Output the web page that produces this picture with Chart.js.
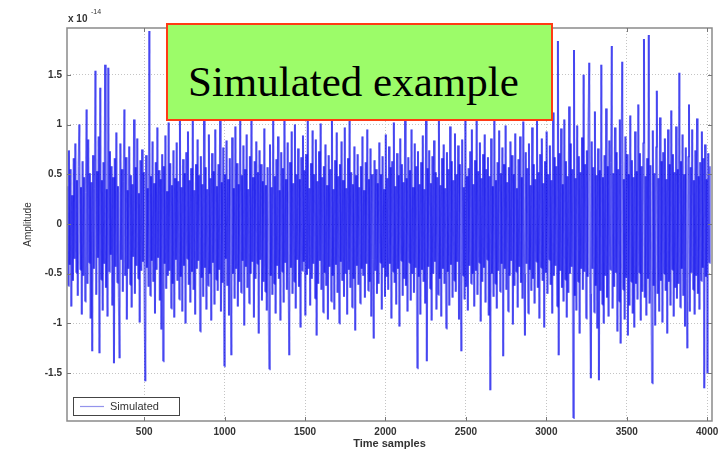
<!DOCTYPE html>
<html>
<head>
<meta charset="utf-8">
<script src="https://cdn.jsdelivr.net/npm/chart.js@4.4.1/dist/chart.umd.min.js"></script>
<style>
  body { margin: 0; background: #fff; }
  #wrap { position: relative; width: 725px; height: 452px; }
  #note {
    position: absolute; left: 166px; top: 23px; width: 383px; height: 94px;
    background: #9cfc69; border: 2px solid #ff3b14;
  }
  #note span {
    position: absolute; left: 20px; top: 35px; line-height: 43px;
    font-family: "Liberation Serif", "Times New Roman", serif; font-size: 43px; color: #000;
    white-space: nowrap;
  }
</style>
</head>
<body>
<div id="wrap">
  <canvas id="chart" width="725" height="452"></canvas>
  <div id="note"><span>Simulated example</span></div>
</div>
<script>
// time axis: one reading every 5 samples, starting at sample 22
const firstSample = 22;
const sampleStep = 5;

// amplitude (x 1e-14)
const amplitude = [
  0.38, -0.62, 0.74, -0.41, 0.55, -0.83, 0.29, -0.57, 0.66, -0.35, 0.81, -0.49, 0.44, -0.72, 0.58, 1.0, -0.46, 0.37, -0.91, 0.63,
  -0.52, 0.47, -0.78, 0.32, 1.15, -0.6, 0.85, -0.39, 0.51, -0.95, 0.42, -1.28, 0.69, -0.45, 0.36, 1.54, -0.71, 0.53, -0.34, 0.88,
  -1.3, 1.37, -0.56, 0.44, -0.87, 0.62, -0.4, 1.6, -0.64, 0.35, -0.93, 1.57, -0.48, 0.73, -0.31, 0.58, -0.82, 0.47, -1.40, 0.66,
  -0.43, 0.92, -0.59, 0.38, -0.74, -1.35, 0.81, -0.36, 0.55, -0.68, 0.43, 1.15, -0.52, 0.67, -0.96, 0.34, -0.45, 0.78, -0.61, 0.49,
  -0.84, 0.4, -0.33, 1.05, -0.7, 0.57, -0.42, 0.86, -0.55, 0.31, -0.99, 0.64, -0.47, 0.75, -0.38, 0.52, -0.81, -1.58, 0.69, -0.44,
  0.36, -0.63, 1.94, -0.72, 0.48, -0.37, 0.83, -0.58, 0.41, -0.9, 0.62, -0.46, 0.97, -0.34, 0.54, -0.77, 0.45, -1.06, 0.7, -1.38,
  0.58, -0.4, 0.89, -0.65, 0.33, -0.52, 1.02, -0.47, 0.61, -0.85, 0.39, -0.6, 0.74, -0.94, 0.46, -0.36, 0.82, -0.57, 0.43, -0.76,
  1.08, -0.53, 0.37, -0.88, 0.65, -0.42, 0.51, -1.0, 0.72, -0.35, 0.93, -0.61, 0.44, -0.79, 0.56, -0.48, 1.12, -0.66, 0.34, -0.91,
  0.6, -0.45, 0.85, -0.37, 0.49, -1.08, 0.68, -0.54, 0.4, -0.73, 1.04, -0.44, 0.57, -0.86, 0.35, -0.62, 0.9, -0.5, 0.46, -0.97,
  0.71, -0.39, 0.53, -0.81, 0.95, -0.56, 0.38, -0.67, 0.6, -0.46, 1.1, -0.88, 0.42, -0.59, 0.77, -1.43, 0.5, -0.35, 0.84, -0.62,
  0.45, -0.92, 0.66, -0.41, -1.32, 0.87, -0.5, 0.36, -0.75, 0.98, -0.45, 0.61, -0.83, 0.4, -0.58, 1.15, -0.69, 0.49, -0.37, 0.79,
  -1.02, 0.55, -0.43, 0.9, -0.64, 0.35, -0.8, 0.68, -0.5, 1.06, -0.38, 0.47, -0.94, 0.63, -0.55, 0.83, -0.4, 0.52, -1.1, 0.74,
  -0.36, 0.6, -0.77, 0.43, -0.58, 0.96, -0.68, 0.39, -0.87, 0.57, -0.46, -1.46, 0.8, -0.52, 0.37, -0.71, 1.09, -0.6, 0.48, -0.9,
  0.65, -0.42, 0.88, -0.55, 0.34, -0.97, 0.72, -0.48, 0.56, -0.79, 1.13, -0.39, 0.45, -0.66, 0.82, -0.53, -1.32, 0.62, -0.44, 0.93,
  -0.7, 0.41, -0.58, 1.0, -0.85, 0.5, -0.36, 0.76, -0.63, 0.45, -1.04, 0.67, -0.47, 0.89, -0.38, 0.54, -0.92, 0.7, -0.51, 1.07,
  -0.45, 0.36, -0.82, 0.61, -0.55, 0.94, -0.4, 0.5, -0.75, 0.85, -1.12, 0.43, -0.6, 0.73, -0.37, 1.01, -0.66, 0.47, -0.89, 0.58,
  -0.49, 0.8, -0.62, 0.39, -0.96, 0.69, -0.43, 0.55, -0.78, 1.11, -0.52, 0.35, -0.86, 0.64, -0.41, 0.92, -0.69, 0.48, -1.0, 0.6,
  -0.38, 0.83, -0.57, 0.44, -0.73, 0.97, -0.5, 0.36, -0.91, 0.66, -0.46, 1.05, -0.64, 0.52, -0.84, 0.4, -0.55, 0.78, -1.07, 0.49,
  -0.42, 0.7, -0.61, 0.37, -0.8, 0.58, -0.45, 0.88, -0.52, 0.34, -0.74, 0.62, -0.4, 0.95, -0.67, 0.45, -0.58, 0.76, -0.93, 0.5,
  -0.36, -1.15, 0.64, -0.47, 0.55, -0.7, 0.41, -0.6, 0.82, -0.39, 0.5, -0.86, 0.68, -0.44, 0.35, -0.73, 0.9, -0.53, 0.46, -0.66,
  0.78, -0.4, 0.57, -0.95, 0.63, -0.48, 1.02, -0.59, 0.38, -0.81, 0.71, -0.45, 0.49, -1.03, 0.86, -0.37, 0.6, -0.72, 0.42, -0.55,
  1.08, -0.62, 0.46, -0.88, 0.67, -0.39, 0.54, -0.77, 0.95, -0.5, 0.37, -0.69, 0.81, -0.44, 0.58, -1.45, 0.73, -0.53, 0.4, -0.91,
  0.62, -0.46, 0.89, -0.58, 0.35, -0.8, 1.05, -1.38, 0.56, -0.43, 0.74, -0.65, 0.41, -0.97, 0.68, -0.5, 0.84, -0.38, 0.52, -0.86,
  0.47, -0.71, 1.1, -0.55, 0.39, -0.93, 0.66, -0.45, 0.8, -0.6, 0.36, -1.05, 0.72, -0.48, 0.55, -0.82, 0.98, -0.41, 0.63, -0.74,
  0.44, -0.57, 0.91, -0.68, 0.5, -0.38, 0.79, -0.96, 0.6, -0.45, -1.28, 0.85, -0.52, 0.37, -0.76, 1.04, -0.63, 0.48, -0.87, 0.56,
  -0.42, 0.73, -0.6, 0.95, -0.5, 0.4, -0.83, 0.64, -0.47, 1.09, -0.71, 0.53, -0.39, 0.82, -0.98, 0.46, -0.58, 0.7, -0.44, 0.9,
  -0.79, 0.55, -0.36, 0.67, -0.92, 0.48, -1.67, 0.86, -0.5, 0.38, -0.73, 1.06, -0.6, 0.44, -0.85, 0.62, -0.47, 0.94, -0.68, 0.51,
  -0.4, 0.77, -1.33, 0.6, -0.45, 0.99, -0.66, 0.42, -0.88, 0.57, -0.52, 0.83, -0.37, 0.69, -1.01, 0.5, -0.62, 0.91, -0.48, 0.36,
  -0.84, 0.65, -0.43, 0.88, -0.59, 0.47, -0.75, 1.03, -0.5, -1.12, 0.72, -0.4, 0.56, -0.9, 0.81, -0.46, 0.39, -0.67, 0.97, -0.55,
  0.6, -0.8, 0.45, -0.38, 1.07, -0.64, 0.52, -0.95, 0.7, -0.44, 0.86, -0.57, 0.41, -1.04, 0.63, -0.49, 0.93, -0.7, 0.5, -0.36,
  0.79, -0.61, 0.44, -0.9, 1.12, -0.52, 0.67, -0.42, 0.58, -0.83, 1.84, -1.32, 0.71, -0.47, 0.96, -0.64, 0.4, -0.78, 1.05, -0.56,
  0.63, -0.94, 0.48, -0.69, 1.18, -0.5, 0.81, -0.43, 0.55, -1.95, 1.75, -0.72, 0.46, -0.87, 0.99, -0.58, 0.68, -1.1, 0.52, -0.45,
  0.87, -0.66, 1.5, -0.48, 0.6, -0.95, 0.74, -0.53, 1.02, 1.62, -0.7, -1.55, 0.83, -0.45, 0.57, -0.89, 1.13, -0.62, 0.49, -1.05,
  0.76, -1.57, 0.54, -0.67, 1.6, -0.81, 0.47, -1.0, 0.69, -0.52, 1.16, -0.74, 0.58, -0.93, 0.84, -0.46, 0.62, 1.79, -0.85, 0.51,
  -0.63, 0.97, -0.49, 0.72, -1.08, 0.55, -0.78, 1.05, -1.2, 0.6, 1.63, -0.66, 0.45, -0.96, 0.88, -0.54, 0.7, -1.12, 0.5, -0.82,
  1.09, -0.58, 0.64, -0.9, 0.47, -1.04, 0.93, -0.6, 0.53, -0.76, 1.2, -0.49, 0.71, -0.97, 0.58, -0.68, 0.82, 1.86, -0.74, 0.48,
  -0.92, 0.66, -0.55, 1.9, -0.8, 0.59, -0.47, -1.6, 0.94, -0.62, 0.51, -1.02, 0.78, 1.34, -0.7, 0.46, -0.88, 1.07, -0.57, 0.63,
  -0.99, 0.72, -0.5, 0.86, -0.67, 0.45, -1.1, 0.95, -0.58, 0.6, -0.82, 1.14, -0.46, 0.7, -0.93, 0.52, -0.64, 0.98, -0.75, 0.55,
  -0.6, 1.52, -0.84, 0.63, -0.45, 0.9, -0.72, 0.5, -1.03, 0.77, -0.55, -1.25, 0.68, 1.2, -0.88, 0.57, -0.49, 0.95, -0.66, 0.44,
  -0.91, 0.74, -0.52, 1.06, -0.7, 0.48, -0.86, 0.62, -0.57, 0.93, -0.44, 0.66, -1.65, 0.8, -0.53, 0.45, -1.5, 0.71, -0.39, 0.58
];

const xTicks = [500, 1000, 1500, 2000, 2500, 3000, 3500, 4000];
const yTicks = [-1.5, -1, -0.5, 0, 0.5, 1, 1.5];

const points = amplitude.map((v, i) => ({ x: firstSample + i * sampleStep, y: v }));

// two almost identical shades so every segment is stroked on its own
// and overlapping strokes build up into the dark core
const lineColorA = 'rgba(0, 0, 235, 0.48)';
const lineColorB = 'rgba(0, 0, 236, 0.48)';
const tickFont = { family: 'Liberation Sans, Arial, sans-serif', size: 10, weight: 'bold' };

// box round the axes, small inward ticks, exponent label and legend
const matlabFrame = {
  id: 'matlabFrame',
  afterDraw(chart) {
    const { ctx, chartArea: a, scales } = chart;
    ctx.save();
    ctx.strokeStyle = '#8a8a8a';
    ctx.lineWidth = 1.5;
    ctx.strokeRect(a.left, a.top, a.right - a.left, a.bottom - a.top);

    ctx.lineWidth = 1;
    ctx.strokeStyle = '#777';
    ctx.beginPath();
    xTicks.forEach(t => {
      const x = Math.round(scales.x.getPixelForValue(t)) + 0.5;
      ctx.moveTo(x, a.bottom); ctx.lineTo(x, a.bottom - 4);
      ctx.moveTo(x, a.top); ctx.lineTo(x, a.top + 4);
    });
    yTicks.forEach(t => {
      const y = Math.round(scales.y.getPixelForValue(t)) + 0.5;
      ctx.moveTo(a.left, y); ctx.lineTo(a.left + 4, y);
      ctx.moveTo(a.right, y); ctx.lineTo(a.right - 4, y);
    });
    ctx.stroke();

    ctx.fillStyle = '#333';
    ctx.textBaseline = 'middle';
    ctx.font = 'bold 10px Liberation Sans, Arial, sans-serif';
    ctx.fillText('x 10', a.left + 1, 19);
    ctx.font = '7px Liberation Sans, Arial, sans-serif';
    ctx.fillText('-14', a.left + 24, 12);

    // legend box
    const lx = a.left + 6, ly = a.bottom - 24, lw = 106, lh = 18;
    ctx.fillStyle = '#fff';
    ctx.fillRect(lx, ly, lw, lh);
    ctx.strokeStyle = '#444';
    ctx.strokeRect(lx + 0.5, ly + 0.5, lw, lh);
    ctx.strokeStyle = 'rgba(60, 60, 220, 0.55)';
    ctx.lineWidth = 1.2;
    ctx.beginPath();
    ctx.moveTo(lx + 7, ly + 9.5); ctx.lineTo(lx + 31, ly + 9.5);
    ctx.stroke();
    ctx.fillStyle = '#333';
    ctx.font = '11px Liberation Sans, Arial, sans-serif';
    ctx.fillText(chart.data.datasets[0].label, lx + 37, ly + 10);
    ctx.restore();
  }
};

new Chart(document.getElementById('chart').getContext('2d'), {
  type: 'line',
  data: {
    datasets: [{
      label: 'Simulated',
      data: points,
      borderColor: lineColorA,
      borderWidth: 2,
      pointRadius: 0,
      tension: 0,
      fill: false,
      segment: {
        borderColor: c => (c.p0DataIndex % 2 ? lineColorA : lineColorB)
      }
    }]
  },
  options: {
    responsive: false,
    animation: false,
    layout: { padding: { top: 28, right: 13, left: 0, bottom: 0 } },
    plugins: {
      legend: { display: false },
      tooltip: { enabled: false }
    },
    scales: {
      x: {
        type: 'linear',
        min: 20,
        max: 4030,
        afterBuildTicks: scale => { scale.ticks = xTicks.map(v => ({ value: v })); },
        afterFit: scale => { scale.height = 31; },
        grid: { color: '#c4c4c4', drawTicks: false },
        border: { display: false, dash: [1, 2] },
        ticks: { padding: 5, color: '#333', font: tickFont, maxRotation: 0, callback: v => String(v) },
        title: {
          display: true, text: 'Time samples', color: '#333',
          font: { family: 'Liberation Sans, Arial, sans-serif', size: 11, weight: 'bold' },
          padding: { top: 0, bottom: 1 }
        }
      },
      y: {
        min: -1.98,
        max: 1.97,
        afterBuildTicks: scale => { scale.ticks = yTicks.map(v => ({ value: v })); },
        afterFit: scale => { scale.width = 67; },
        grid: { color: '#c4c4c4', drawTicks: false },
        border: { display: false, dash: [1, 2] },
        ticks: { padding: 5, color: '#333', font: tickFont, callback: v => String(v) },
        title: {
          display: true, text: 'Amplitude', color: '#333',
          font: { family: 'Liberation Sans, Arial, sans-serif', size: 10 },
          padding: { top: 22, bottom: 0 }
        }
      }
    }
  },
  plugins: [matlabFrame]
});
</script>
</body>
</html>
